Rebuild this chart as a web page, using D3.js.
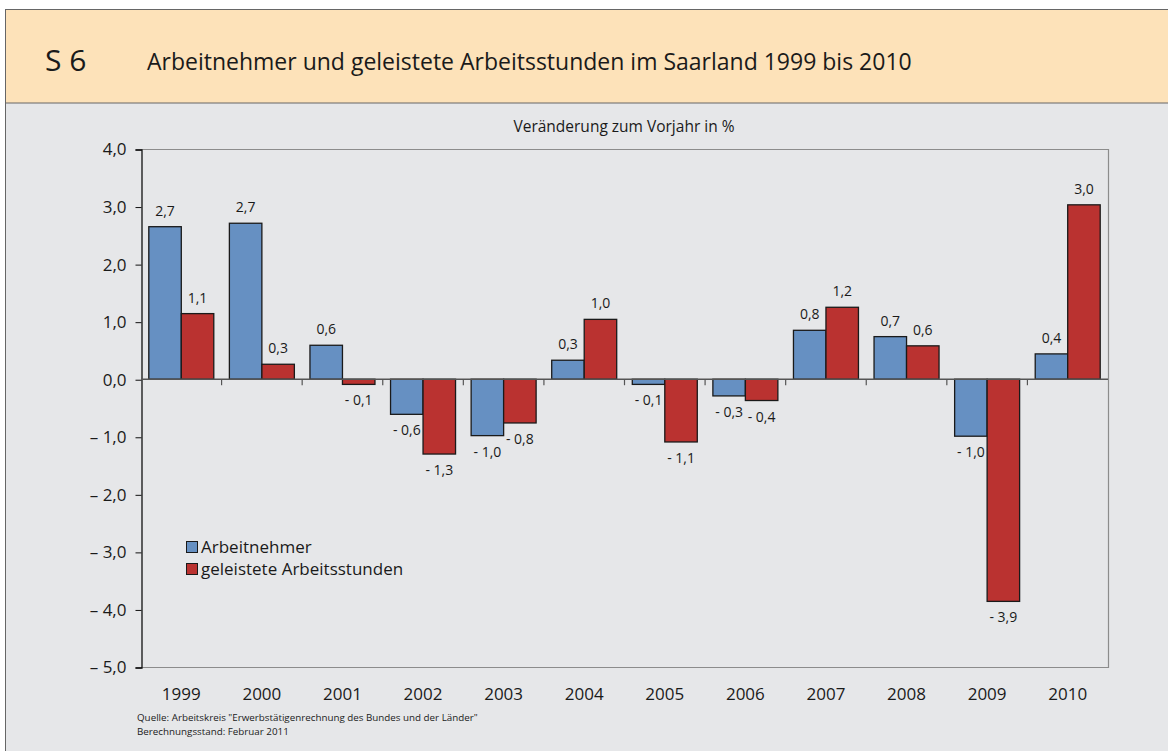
<!doctype html>
<html>
<head>
<meta charset="utf-8">
<script src="https://cdn.jsdelivr.net/npm/d3@7"></script>
<style>
	body { margin: 0; background: #fff; font-family: "Open Sans", "Noto Sans", sans-serif; }
	text { font-family: "Open Sans", "Noto Sans", sans-serif; fill: #1a1a1a; }
</style>
</head>
<body>
<script>
	// data
	var years = ["1999","2000","2001","2002","2003","2004","2005","2006","2007","2008","2009","2010"];
	var arbeitnehmer = [2.65, 2.71, 0.59, -0.61, -0.98, 0.33, -0.09, -0.29, 0.85, 0.74, -0.99, 0.44];
	var stunden = [1.14, 0.26, -0.09, -1.30, -0.76, 1.04, -1.09, -0.37, 1.25, 0.58, -3.86, 3.03];
	var labelsA = ["2,7","2,7","0,6","- 0,6","- 1,0","0,3","- 0,1","- 0,3","0,8","0,7","- 1,0","0,4"];
	var labelsS = ["1,1","0,3","- 0,1","- 1,3","- 0,8","1,0","- 1,1","- 0,4","1,2","0,6","- 3,9","3,0"];
	var yTicks = [4, 3, 2, 1, 0, -1, -2, -3, -4, -5];
	var seriesNames = ["Arbeitnehmer", "geleistete Arbeitsstunden"];
	var colors = ["#6690c2", "#ba3230"];

	var W = 1168, H = 751;
	var svg = d3.select("body").append("svg")
		.attr("width", W).attr("height", H);

	// frame
	svg.append("rect").attr("x", 5.5).attr("y", 9.5).attr("width", W).attr("height", H)
		.attr("fill", "#e6e7e9").attr("stroke", "#666").attr("stroke-width", 1);
	svg.append("rect").attr("x", 5.5).attr("y", 9.5).attr("width", W).attr("height", 93.5)
		.attr("fill", "#fde2b9").attr("stroke", "#666").attr("stroke-width", 1);

	svg.append("text").attr("x", 45).attr("y", 71).style("font-size", "30px").text("S 6");
	svg.append("text").attr("x", 147).attr("y", 70).style("font-size", "23px")
		.text("Arbeitnehmer und geleistete Arbeitsstunden im Saarland 1999 bis 2010");

	var margin = {left: 141, right: 1108, top: 149, bottom: 667};

	var x = d3.scaleBand().domain(years).range([margin.left, margin.right]).paddingInner(0).paddingOuter(0);
	var xi = d3.scaleBand().domain([0, 1]).range([0, x.bandwidth()]).paddingInner(0).paddingOuter(0.24);
	var y = d3.scaleLinear().domain([-5, 4]).range([margin.bottom, margin.top]);

	svg.append("text").attr("x", 624).attr("y", 132).attr("text-anchor", "middle")
		.style("font-size", "15.5px").text("Veränderung zum Vorjahr in %");

	// plot border (top, right, bottom)
	svg.append("path")
		.attr("d", "M" + margin.left + "," + (y(4) + 0.5) + "H" + (margin.right + 0.5) + "V" + (y(-5) + 0.5) + "H" + margin.left)
		.attr("fill", "none").attr("stroke", "#8c8c8c").attr("stroke-width", 1.2);

	// y axis
	var yAxis = svg.append("g")
		.attr("transform", "translate(" + (margin.left + 0.5) + ",0.5)")
		.call(d3.axisLeft(y).tickValues(yTicks).tickSize(6).tickPadding(9)
			.tickFormat(function(d) {
				var s = Math.abs(d).toFixed(1).replace(".", ",");
				return d < 0 ? "\u2013 " + s : s;
			}));
	yAxis.select(".domain").attr("stroke", "#111").attr("stroke-width", 1.3);
	yAxis.selectAll(".tick line").attr("stroke", "#111");
	yAxis.selectAll(".tick text").style("font-size", "17px").attr("fill", "#1a1a1a");

	var series = [arbeitnehmer, stunden];
	var labels = [labelsA, labelsS];

	series.forEach(function(vals, s) {
		svg.append("g").selectAll("rect")
			.data(vals)
			.enter().append("rect")
			.attr("x", function(d, i) { return x(years[i]) + xi(s); })
			.attr("width", xi.bandwidth())
			.attr("y", function(d) { return y(Math.max(0, d)); })
			.attr("height", function(d) { return Math.abs(y(d) - y(0)); })
			.attr("fill", colors[s])
			.attr("stroke", "#1a1a1a").attr("stroke-width", 1.3);
	});

	// zero line with category ticks
	svg.append("line")
		.attr("x1", margin.left).attr("x2", margin.right)
		.attr("y1", y(0)).attr("y2", y(0))
		.attr("stroke", "#555").attr("stroke-width", 1.5);
	svg.append("g").selectAll("line")
		.data(years.slice(1))
		.enter().append("line")
		.attr("x1", function(d) { return x(d); }).attr("x2", function(d) { return x(d); })
		.attr("y1", y(0)).attr("y2", y(0) + 6)
		.attr("stroke", "#555").attr("stroke-width", 1.2);

	// value labels
	series.forEach(function(vals, s) {
		svg.append("g").selectAll("text")
			.data(vals)
			.enter().append("text")
			.attr("x", function(d, i) { return x(years[i]) + xi(s) + xi.bandwidth() / 2; })
			.attr("y", function(d) { return d >= 0 ? y(d) - 11 : y(d) + 21; })
			.attr("text-anchor", "middle")
			.style("font-size", "14px")
			.text(function(d, i) { return labels[s][i]; });
	});

	// x labels
	svg.append("g").selectAll("text")
		.data(years)
		.enter().append("text")
		.attr("x", function(d) { return x(d) + x.bandwidth() / 2; })
		.attr("y", 700)
		.attr("text-anchor", "middle")
		.style("font-size", "17px")
		.text(function(d) { return d; });

	// legend
	var legend = svg.append("g").attr("transform", "translate(186,541)");
	seriesNames.forEach(function(n, i) {
		legend.append("rect").attr("x", 0.5).attr("y", i * 22 + 0.5).attr("width", 11).attr("height", 11)
			.attr("fill", colors[i]).attr("stroke", "#1a1a1a").attr("stroke-width", 1);
		legend.append("text").attr("x", 15).attr("y", i * 22 + 12)
			.style("font-size", "17px").text(n);
	});

	// source
	svg.append("text").attr("x", 137).attr("y", 721).style("font-size", "9.8px")
		.text("Quelle: Arbeitskreis \"Erwerbstätigenrechnung des Bundes und der Länder\"");
	svg.append("text").attr("x", 137).attr("y", 735).style("font-size", "9.8px")
		.text("Berechnungsstand: Februar 2011");
</script>
</body>
</html>
